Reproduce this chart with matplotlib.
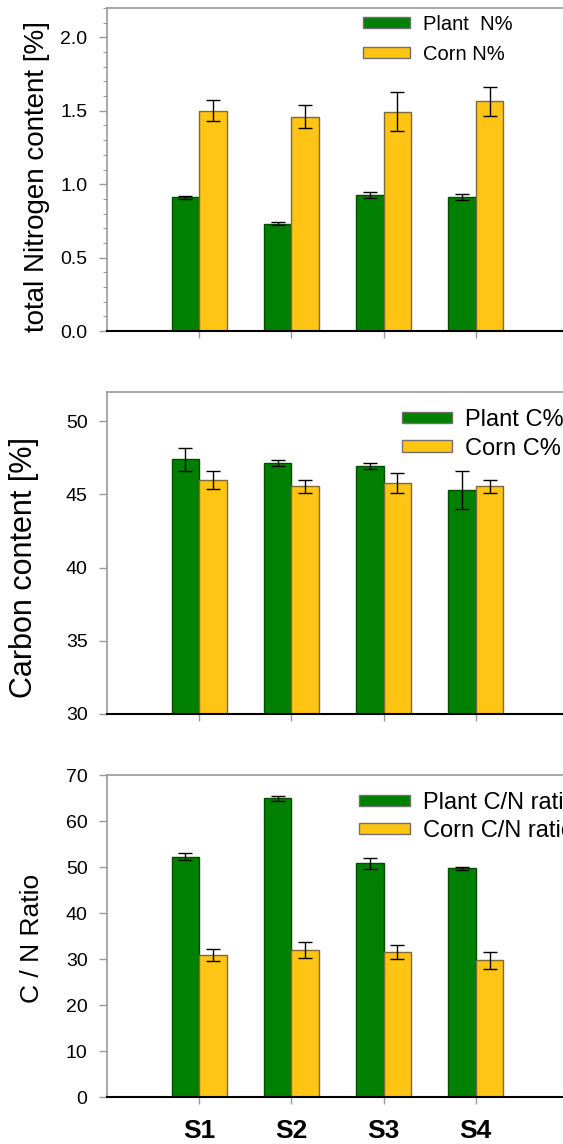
import matplotlib
matplotlib.use("Agg")
import matplotlib.pyplot as plt
import numpy as np
from matplotlib.ticker import MultipleLocator

plt.rcParams['font.family'] = ['Liberation Sans', 'DejaVu Sans']

sites = ["S1", "S2", "S3", "S4"]

plant_n = [0.91, 0.73, 0.925, 0.91]
plant_n_err = [0.012, 0.010, 0.02, 0.02]
corn_n = [1.50, 1.46, 1.495, 1.565]
corn_n_err = [0.07, 0.08, 0.13, 0.10]

plant_c = [47.4, 47.13, 46.93, 45.29]
plant_c_err = [0.8, 0.2, 0.2, 1.3]
corn_c = [45.97, 45.56, 45.77, 45.56]
corn_c_err = [0.6, 0.45, 0.7, 0.45]

plant_cn = [52.2, 64.9, 50.8, 49.7]
plant_cn_err = [0.75, 0.5, 1.15, 0.35]
corn_cn = [30.8, 31.9, 31.5, 29.7]
corn_cn_err = [1.3, 1.7, 1.6, 1.9]

GREEN = "#008000"
YELLOW = "#FFC414"
GREEN_EDGE = "#004d00"
YELLOW_EDGE = "#7d6a35"
GRAY = "#9a9a9a"

W, H = 563, 1144
fig = plt.figure(figsize=(W / 100, H / 100), dpi=100)

def ax_at(top, bottom):
    left = 107 / W
    right = 568 / W
    return fig.add_axes([left, (H - bottom) / H, right - left, (bottom - top) / H])

panels = [
    dict(top=8, bottom=331, p=plant_n, pe=plant_n_err, c=corn_n, ce=corn_n_err,
         ylim=(0, 2.2), major=0.5, minor=0.1, fmt="{:.1f}",
         ylabel="total Nitrogen content [%]", ylsize=20, ylx=50, ylc=177,
         labels=["Plant  N%", "Corn N%"], leg=(363, 15), lfs=14.5,
         hl=2.35, hh=0.45, tp=0.65, ls=0.53),
    dict(top=392, bottom=714, p=plant_c, pe=plant_c_err, c=corn_c, ce=corn_c_err,
         ylim=(30, 52), major=5, minor=None, fmt="{:.0f}",
         ylabel="Carbon content [%]", ylsize=22, ylx=39, ylc=568,
         labels=["Plant C%", "Corn C%"], leg=(402, 409), lfs=17,
         hl=2.1, hh=0.38, tp=0.55, ls=0.28),
    dict(top=775, bottom=1097, p=plant_cn, pe=plant_cn_err, c=corn_cn, ce=corn_cn_err,
         ylim=(0, 70), major=10, minor=None, fmt="{:.0f}",
         ylabel="C / N Ratio", ylsize=19, ylx=44, ylc=938,
         labels=["Plant C/N ratio", "Corn C/N ratio"], leg=(359, 792), lfs=17,
         hl=2.15, hh=0.38, tp=0.55, ls=0.26),
]

x = np.arange(len(sites))
bw = 0.3
for i, pn in enumerate(panels):
    ax = ax_at(pn["top"], pn["bottom"])
    ax.bar(x - bw / 2, pn["p"], bw, color=GREEN, edgecolor=GREEN_EDGE, linewidth=1.0,
           label=pn["labels"][0], zorder=2)
    ax.bar(x + bw / 2, pn["c"], bw, color=YELLOW, edgecolor=YELLOW_EDGE, linewidth=1.0,
           label=pn["labels"][1], zorder=2)
    ax.errorbar(x - bw / 2, pn["p"], yerr=pn["pe"], fmt="none", ecolor="black",
                elinewidth=1.0, capsize=5, capthick=1.0, zorder=3)
    ax.errorbar(x + bw / 2, pn["c"], yerr=pn["ce"], fmt="none", ecolor="black",
                elinewidth=1.0, capsize=5, capthick=1.0, zorder=3)
    ax.set_xlim(-1, 4)
    ax.set_ylim(*pn["ylim"])
    if pn["minor"]:
        ax.yaxis.set_minor_locator(MultipleLocator(pn["minor"]))
        ax.tick_params(axis="y", which="minor", length=3, color=GRAY, width=0.8)
    ticks = np.arange(pn["ylim"][0], pn["ylim"][1] + 1e-9, pn["major"])
    ax.set_yticks(ticks)
    ax.set_yticklabels([pn["fmt"].format(t) for t in ticks])
    ax.set_xticks(x)
    if i == 2:
        ax.set_xticklabels(sites, fontsize=19, fontweight="bold")
    else:
        ax.set_xticklabels([])
    ax.tick_params(axis="y", which="major", length=6, color=GRAY, width=1.0,
                   labelsize=14, pad=8, direction="out")
    ax.tick_params(axis="x", length=5, color=GRAY, width=1.0, pad=11, direction="out")
    for s in ("left", "top"):
        ax.spines[s].set_color(GRAY)
        ax.spines[s].set_linewidth(1.2)
    ax.spines["right"].set_visible(False)
    ax.spines["bottom"].set_color("black")
    ax.spines["bottom"].set_linewidth(1.5)
    ax.set_ylabel(pn["ylabel"], fontsize=pn["ylsize"])
    yfrac = (pn["bottom"] - pn["ylc"]) / (pn["bottom"] - pn["top"])
    ax.yaxis.set_label_coords(-(107 - pn["ylx"]) / (568 - 107), yfrac)
    lx, ly = pn["leg"]
    leg = ax.legend(loc="upper left", bbox_to_anchor=(lx / W, 1 - ly / H),
                    bbox_transform=fig.transFigure, frameon=False, fontsize=pn["lfs"],
                    handlelength=pn["hl"], handleheight=pn["hh"], handletextpad=pn["tp"],
                    labelspacing=pn["ls"], borderpad=0, borderaxespad=0)
    for h in leg.legend_handles:
        h.set_edgecolor("#707070")

fig.savefig("out.png", dpi=100)
